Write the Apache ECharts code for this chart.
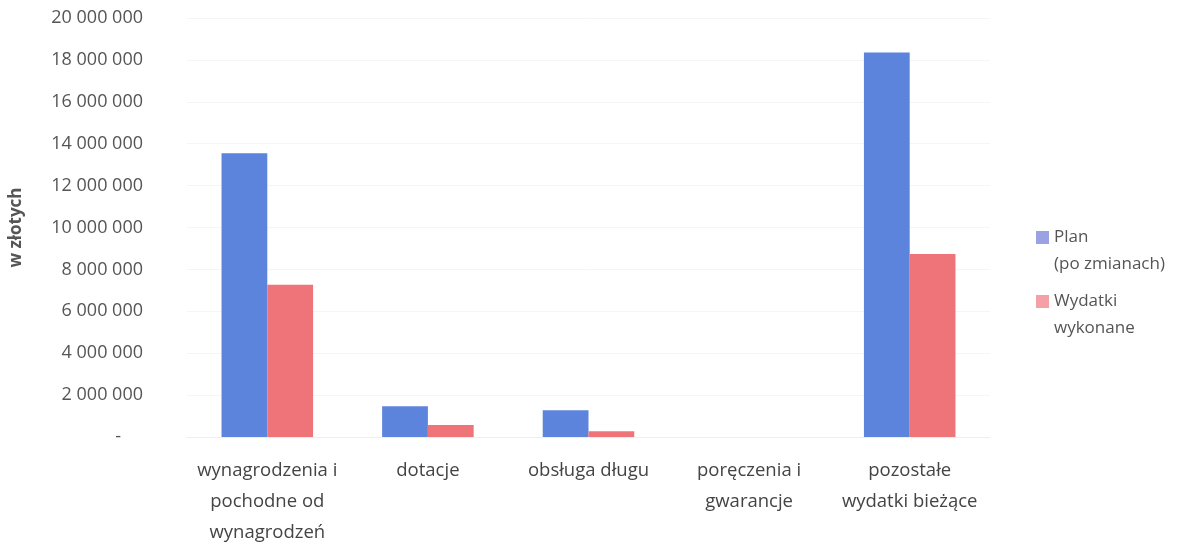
<!DOCTYPE html>
<html><head><meta charset="utf-8">
<script src="https://cdn.jsdelivr.net/npm/echarts@6/dist/echarts.min.js"></script>
<style>html,body{margin:0;padding:0;background:#fff}#c{width:1186px;height:548px}</style>
</head><body><div id="c"></div>
<script>
const categories = ['wynagrodzenia i\npochodne od\nwynagrodzeń', 'dotacje', 'obsługa długu', 'poręczenia i\ngwarancje', 'pozostałe\nwydatki bieżące'];
const seriesNames = ['Plan\n(po zmianach)', 'Wydatki\nwykonane'];
const planValues = [13550000, 1470000, 1280000, 0, 18350000];
const doneValues = [7270000, 570000, 270000, 0, 8740000];
const yAxisName = 'w złotych';

function fmt(v){
  if (v === 0) return '{z|-}';
  return String(v).replace(/\B(?=(\d{3})+(?!\d))/g, ' ');
}
const topIcon = 'path://M0,0h0.01v0.01h-0.01Z M0,7h13v13h-13Z M0,54h0.01v0.01h-0.01Z';
const chart = echarts.init(document.getElementById('c'));
chart.setOption({
  animation: false,
  textStyle: {fontFamily: 'Open Sans'},
  grid: {left: 185, right: 196, top: 18, bottom: 109},
  legend: {
    orient: 'vertical', left: 1031, top: 219,
    itemWidth: 13, itemHeight: 54, itemGap: 10,
    icon: topIcon,
    textStyle: {fontSize: 17, color: '#555', lineHeight: 27, fontFamily: 'Open Sans'},
    data: [
      {name: seriesNames[0], itemStyle: {color: '#9aa2e3'}},
      {name: seriesNames[1], itemStyle: {color: '#f4a0a6'}}
    ]
  },
  xAxis: {
    type: 'category', data: categories,
    axisLine: {show: true, lineStyle: {color: '#eee'}},
    axisTick: {show: false},
    axisLabel: {fontSize: 18.5, color: '#444', lineHeight: 31, margin: 18, interval: 0, fontFamily: 'Open Sans'}
  },
  yAxis: {
    type: 'value', min: 0, max: 20000000, interval: 2000000,
    name: yAxisName, nameLocation: 'middle', nameGap: 162, nameRotate: 90,
    nameTextStyle: {fontSize: 17, fontWeight: 'bold', color: '#555', fontFamily: 'Open Sans'},
    axisLine: {show: false}, axisTick: {show: false},
    splitLine: {lineStyle: {color: '#f5f5f5'}},
    axisLabel: {fontSize: 18, color: '#555', margin: 44, formatter: fmt, fontFamily: 'Open Sans',
      rich: {z: {fontSize: 18, color: '#555', padding: [0, 22, 0, 0]}}}
  },
  series: [
    {name: seriesNames[0], type: 'bar', data: planValues, barGap: '0%', barCategoryGap: '43%',
     itemStyle: {color: '#5d84dd'}},
    {name: seriesNames[1], type: 'bar', data: doneValues,
     itemStyle: {color: '#ef7479'}}
  ]
});
</script></body></html>
